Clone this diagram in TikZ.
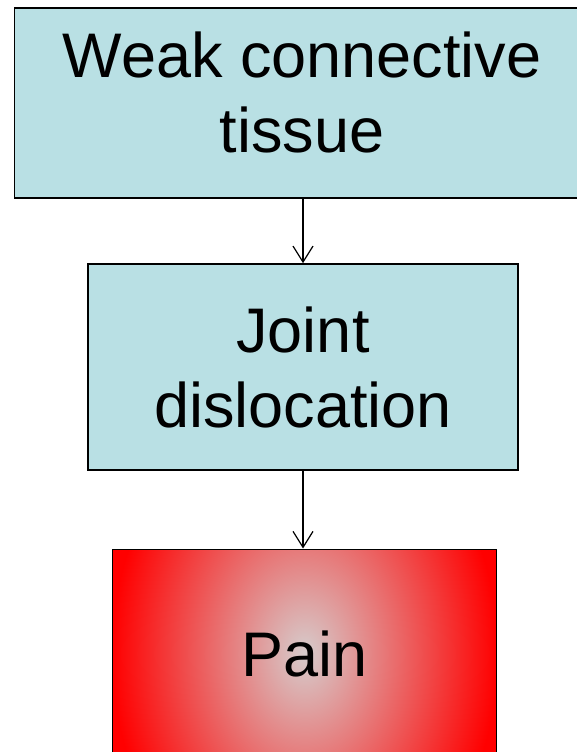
\documentclass[tikz,border=0pt]{standalone}
\usepackage{fontspec}
\setmainfont{Liberation Sans}
\usepackage{xcolor}
\usepackage{tikz}
\usetikzlibrary{arrows.meta, positioning, calc}

\definecolor{tissuecyan}{RGB}{185,224,228}
\definecolor{paincore}{RGB}{214,204,204}
\pgfdeclareradialshading{painglow}{\pgfpointorigin}{color(0bp)=(paincore); color(25bp)=(red); color(50bp)=(red)}

\begin{document}
\begin{tikzpicture}[x=1pt, y=1pt,
    box/.style={rectangle, draw=black, line width=1.6pt, fill=tissuecyan, align=center, inner sep=0pt, font=\fontsize{63}{75}\selectfont},
    painbox/.style={rectangle, draw=black, line width=1pt, align=center, inner sep=0pt, font=\fontsize{63}{75}\selectfont, path picture={\shade[shading=painglow] ($(path picture bounding box.center)+(-192.5pt,-260pt)$) rectangle ++(385pt,520pt);}},
    arr/.style={-{Straight Barb[length=16pt, width=20pt]}, line width=1.2pt, draw=black}
]
    \useasboundingbox (0,0) rectangle (577,-752);
    \clip (0,0) rectangle (577,-752);

    % Level 1: cause
    \node[box, minimum width=575pt, minimum height=190pt] (weak_tissue) at (302,-103) {Weak connective\\tissue\rule[-21pt]{0pt}{21pt}};

    % Level 2: consequence
    \node[box, minimum width=430pt, minimum height=206pt] (joint_disloc) at (303,-367) {Joint\\dislocation};

    \draw[arr] (joint_disloc.north |- weak_tissue.south) -- (joint_disloc.north);

    % Level 3: outcome (cut off at the bottom)
    \node[painbox, minimum width=384pt, minimum height=209pt] (pain) at (304.5,-653.5) {Pain};

    \draw[arr] (joint_disloc.south) -- (joint_disloc.south |- pain.north);
\end{tikzpicture}
\end{document}
